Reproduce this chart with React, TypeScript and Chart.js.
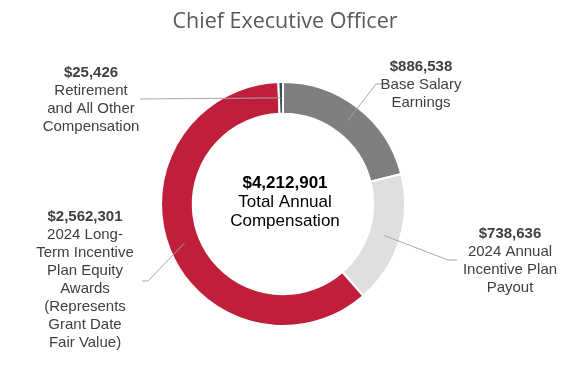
import React, { useEffect, useRef } from "react";
import { Chart, registerables } from "chart.js";

Chart.register(...registerables);

const titleText = "Chief Executive Officer";
const categories = [
  "Base Salary Earnings",
  "2024 Annual Incentive Plan Payout",
  "2024 Long-Term Incentive Plan Equity Awards (Represents Grant Date Fair Value)",
  "Retirement and All Other Compensation",
];
const values = [886538, 738636, 2562301, 25426];
const sliceColors = ["#7f7f7f", "#dfdfe1", "#c01f3b", "#3d4b5e"];
const labelLines = [
  ["Base Salary", "Earnings"],
  ["2024 Annual", "Incentive Plan", "Payout"],
  ["2024 Long-", "Term Incentive", "Plan Equity", "Awards", "(Represents", "Grant Date", "Fair Value)"],
  ["Retirement", "and All Other", "Compensation"],
];
const centerLines = ["Total Annual", "Compensation"];

// label layout: text centre x, first line y, leader path points (from slice to text)
const labelLayout = [
  { x: 421, y: 67, path: [[376, 84], [382, 84]] },
  { x: 510, y: 234, path: [[448, 260], [457, 260]] },
  { x: 85, y: 217, path: [[148, 281], [142, 281]] },
  { x: 91, y: 73, path: [[140, 99]] },
];

const fmt = (v: number) => "$" + v.toLocaleString("en-US");

const labelPlugin = {
  id: "customLabels",
  afterDraw(chart: any) {
    const ctx = chart.ctx as CanvasRenderingContext2D;
    const meta = chart.getDatasetMeta(0);
    const arcs = meta.data;
    ctx.save();
    // title
    ctx.fillStyle = "#595959";
    ctx.font = "21.5px 'Open Sans'";
    ctx.textAlign = "center";
    ctx.textBaseline = "middle";
    ctx.fillText(titleText, 285, 22);

    // leader lines
    ctx.strokeStyle = "#a6a6a6";
    ctx.lineWidth = 1;
    arcs.forEach((arc: any, i: number) => {
      const p = arc.tooltipPosition(false);
      ctx.beginPath();
      ctx.moveTo(p.x, p.y);
      labelLayout[i].path.forEach((pt) => ctx.lineTo(pt[0], pt[1]));
      ctx.stroke();
    });

    // labels
    const lh = 18;
    values.forEach((v, i) => {
      const L = labelLayout[i];
      ctx.fillStyle = "#404040";
      ctx.font = "bold 15px 'Liberation Sans', Arial, sans-serif";
      ctx.fillText(fmt(v), L.x, L.y);
      ctx.font = "15px 'Liberation Sans', Arial, sans-serif";
      labelLines[i].forEach((t, j) => ctx.fillText(t, L.x, L.y + lh * (j + 1)));
    });

    // centre
    const total = values.reduce((a, b) => a + b, 0);
    const cx = (chart.chartArea.left + chart.chartArea.right) / 2;
    const cy = (chart.chartArea.top + chart.chartArea.bottom) / 2;
    ctx.fillStyle = "#000000";
    ctx.font = "bold 17px 'Liberation Sans', Arial, sans-serif";
    ctx.fillText(fmt(total), cx + 2, cy - 21);
    ctx.font = "17px 'Liberation Sans', Arial, sans-serif";
    centerLines.forEach((t, j) => ctx.fillText(t, cx + 2, cy - 21 + 19 * (j + 1)));
    ctx.restore();
  },
};

export default function App() {
  const ref = useRef<HTMLCanvasElement>(null);
  useEffect(() => {
    if (!ref.current) return;
    const chart = new Chart(ref.current, {
      type: "doughnut",
      data: {
        labels: categories,
        datasets: [
          {
            data: values,
            backgroundColor: sliceColors,
            borderColor: "#ffffff",
            borderWidth: 2,
          },
        ],
      },
      options: {
        responsive: false,
        animation: false,
        cutout: "74%",
        layout: { padding: { top: 81, bottom: 38, left: 160, right: 169 } },
        plugins: {
          legend: { display: false },
          tooltip: { enabled: false },
          title: { display: false },
        },
      },
      plugins: [labelPlugin],
    });
    return () => chart.destroy();
  }, []);
  return (
    <div style={{ position: "absolute", left: 0, top: 0, width: 575, height: 365, background: "#fff" }}>
      <canvas ref={ref} width={575} height={365} style={{ display: "block" }} />
    </div>
  );
}
